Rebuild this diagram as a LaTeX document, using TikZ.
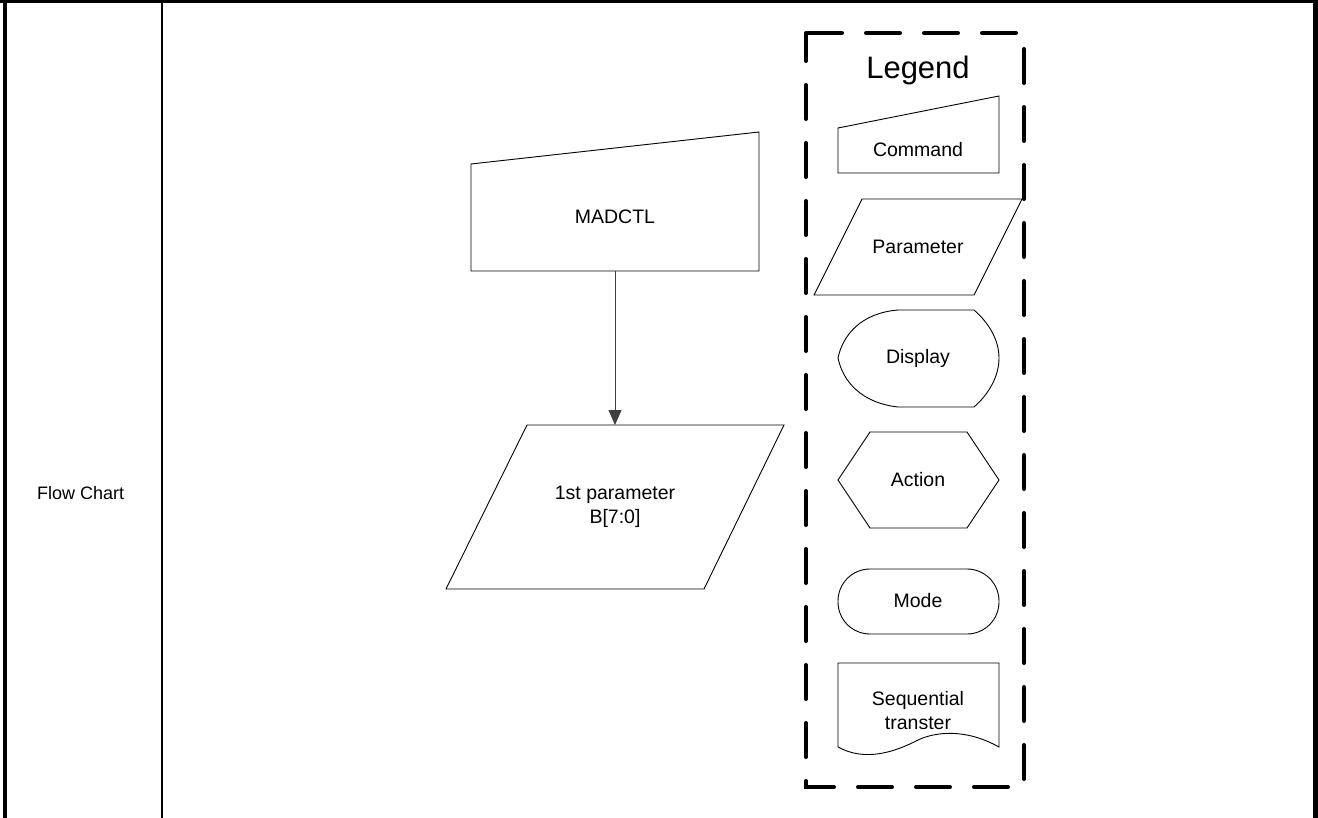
\documentclass[tikz,border=0pt]{standalone}
\usepackage{fontspec}
\setmainfont{Liberation Sans}
\usetikzlibrary{arrows.meta,positioning,calc}
\tikzset{
  frm/.style  ={line width=2.7pt},
  shp/.style  ={draw,line width=0.9pt,line join=miter},
  txt/.style  ={font=\fontsize{19.5}{24}\selectfont,align=center,inner sep=0pt},
  ar/.style   ={-{Triangle[length=15pt,width=13pt]},line width=1pt,draw=black!75},
  lgd/.style  ={line width=4pt,line cap=round,dash pattern=on 34pt off 24pt,dash phase=6pt},
}

\begin{document}
\begin{tikzpicture}[x=1pt,y=-1pt]
  \useasboundingbox (0,0) rectangle (1318,818);
  % table frame
  \draw[frm] (0,1.3) -- (1318,1.3);
  \draw[line width=4pt] (4.7,0) -- (4.7,818);
  \draw[line width=2.3pt] (162,0) -- (162,818);
  \draw[line width=4.7pt] (1315.7,0) -- (1315.7,818);
  \node[txt,anchor=west,font=\fontsize{18}{22}\selectfont] (row) at (37,493) {Flow Chart};

  % flow
  \draw[shp] (471,164) -- (759,132) -- (759,271) -- (471,271) -- cycle;
  \node[txt] (madctl) at (615,217) {MADCTL};
  \draw[shp] (527,425) -- (784,425) -- (704,589) -- (446,589) -- cycle;
  \node[txt] (par) at (615,507) {1st parameter\\B[7:0]};
  \coordinate (cmdout) at (615,271);
  \coordinate (parin) at (615,425);
  \draw[ar] (cmdout) -- (parin);

  % legend
  \draw[lgd] (806,33) rectangle (1024,787);
  \node[txt,font=\fontsize{31}{36}\selectfont] (legend) at (918,70) {Legend};
  \draw[shp] (838,128) -- (999,96) -- (999,173) -- (838,173) -- cycle;
  \node[txt] (cmd) at (918,150) {Command};
  \draw[shp] (862,199) -- (1022,199) -- (974,295) -- (814,295) -- cycle;
  \node[txt] (param) at (918,247) {Parameter};
  \draw[shp] (898,310) -- (974,310) .. controls (989,323) and (999,340) .. (999,358)
    .. controls (999,376) and (989,394) .. (974,407) -- (898,407)
    .. controls (862,403) and (843,382) .. (838,358)
    .. controls (843,334) and (862,313) .. (898,310) -- cycle;
  \node[txt] (disp) at (918,358) {Display};
  \draw[shp] (870,432) -- (967,432) -- (999,480) -- (967,528) -- (870,528) -- (838,480) -- cycle;
  \node[txt] (act) at (918,480) {Action};
  \draw[shp,rounded corners=32pt] (838,569) rectangle (999,634);
  \node[txt] (mode) at (918,601) {Mode};
  \draw[shp] (838,663) -- (999,663) -- (999,747)
    .. controls (965,728) and (935,732) .. (918,740)
    .. controls (895,752) and (865,762) .. (838,747) -- cycle;
  \node[txt] (seq) at (918,711) {Sequential\\transter};
\end{tikzpicture}
\end{document}
